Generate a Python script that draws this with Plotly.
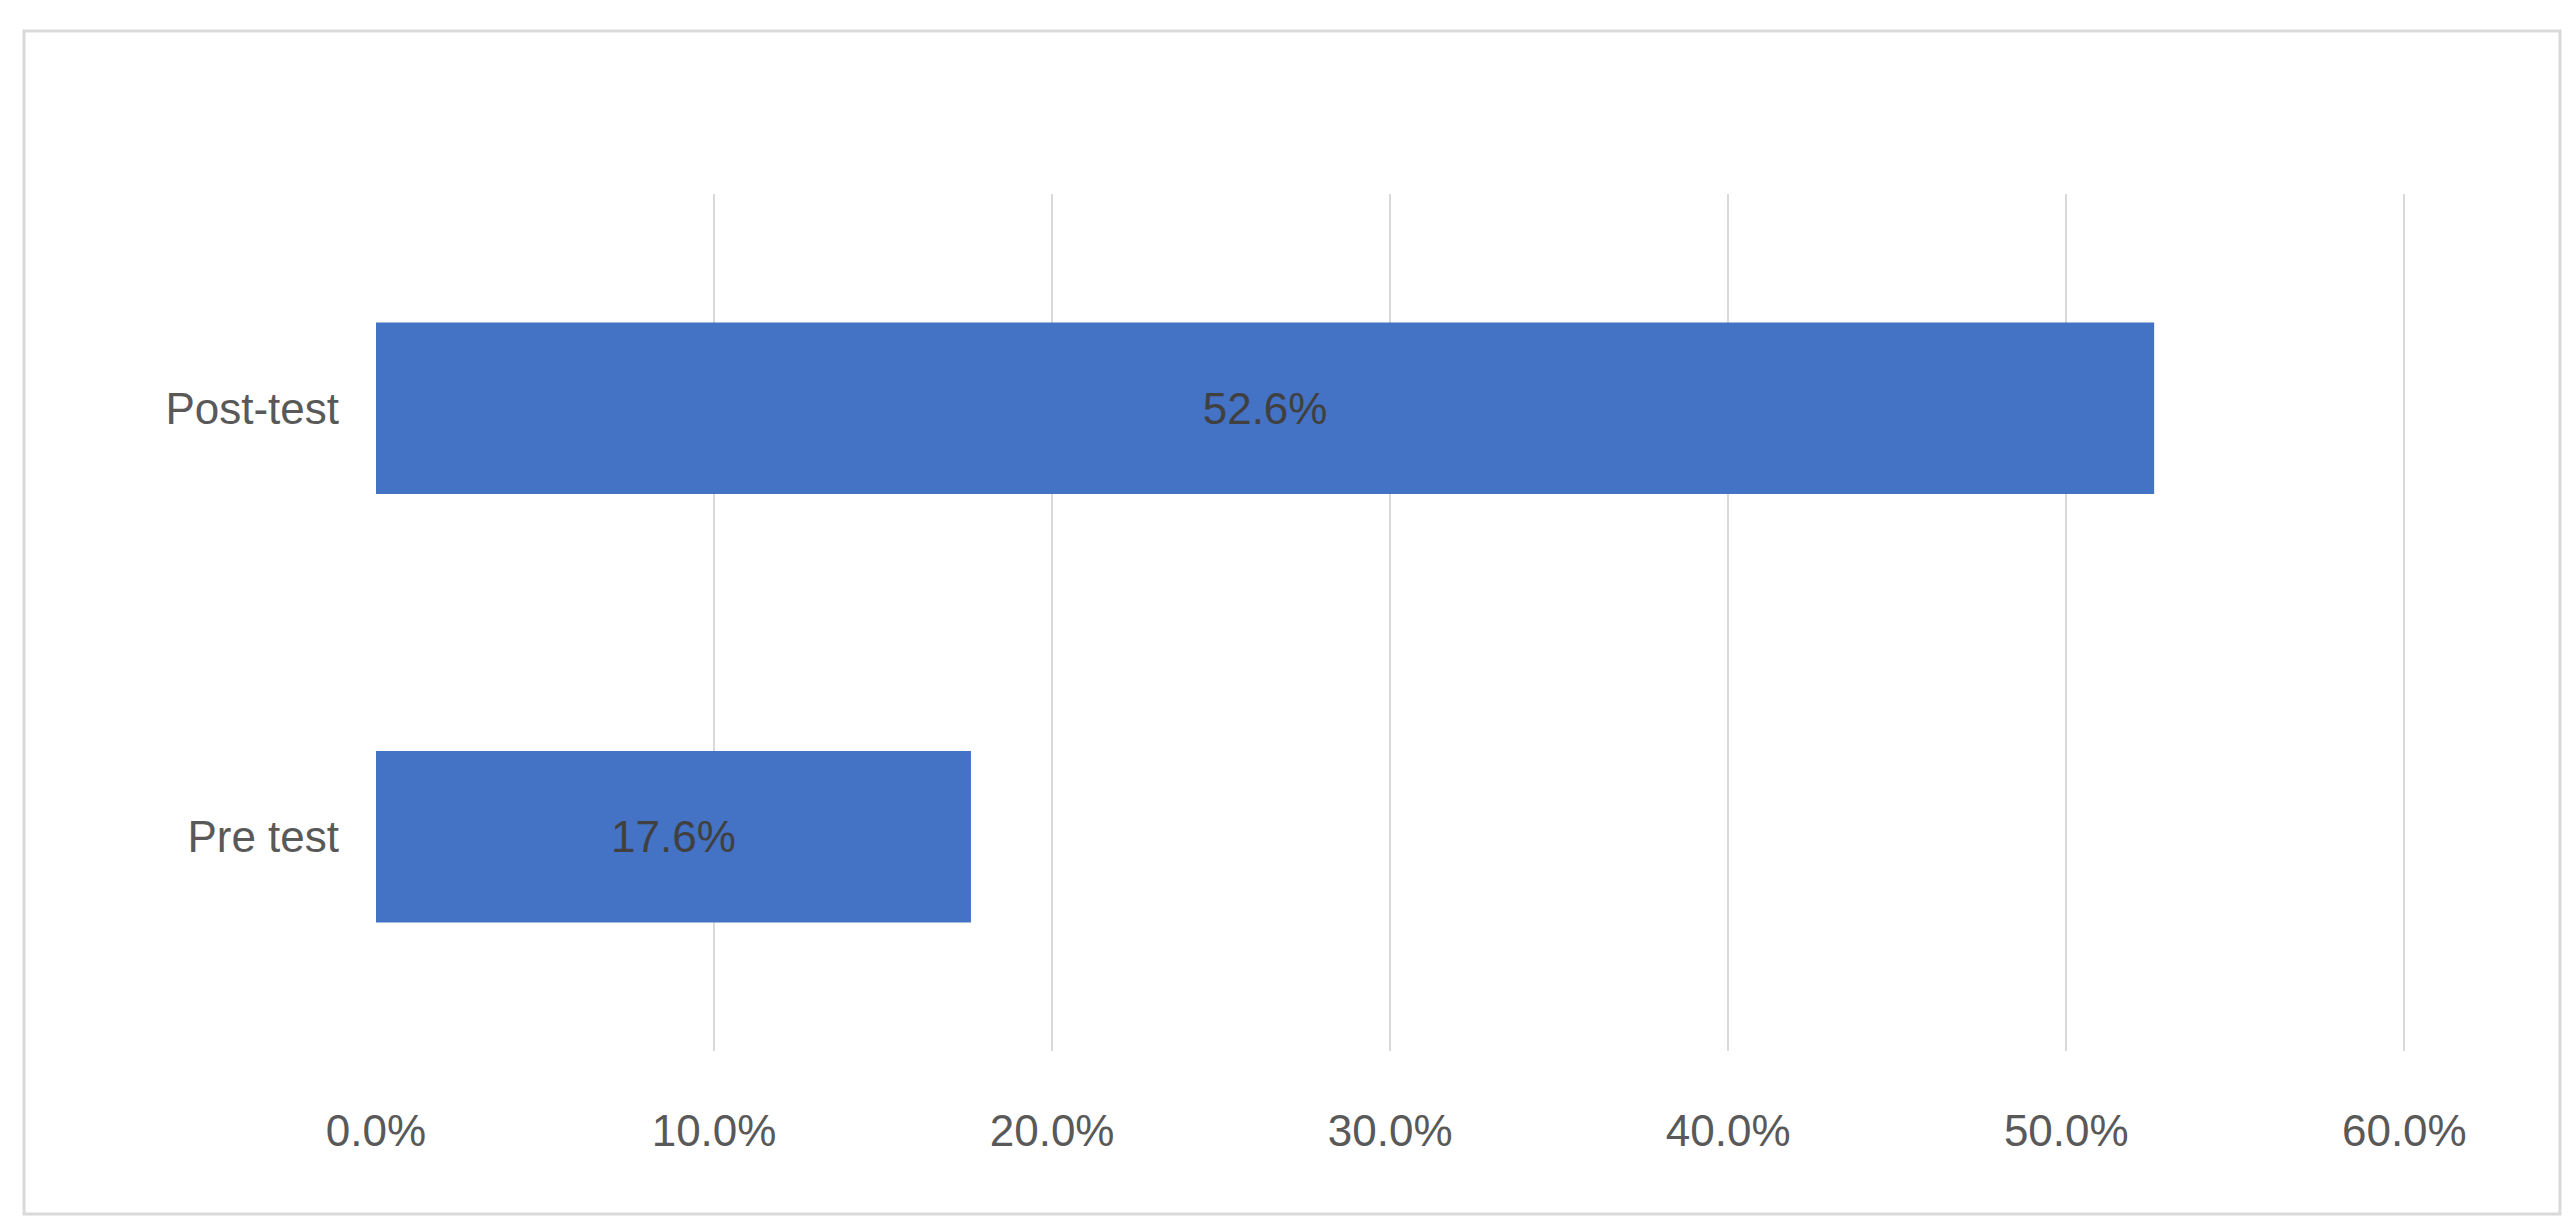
import plotly.graph_objects as go

categories = ['Pre test', 'Post-test']
values = [17.6, 52.6]
tick_vals = [0, 10, 20, 30, 40, 50, 60]
tick_text = ['0.0%', '10.0%', '20.0%', '30.0%', '40.0%', '50.0%', '60.0%']

W, H = 2574, 1223
ml, mr, mt, mb = 368, 176, 186, 180
pw, ph = W - ml - mr, H - mt - mb

fig = go.Figure(go.Bar(
    y=categories, x=values, orientation='h',
    marker=dict(color='#4472C4', line=dict(width=0)),
    text=[f'{v:.1f}%' for v in values], textposition='inside',
    insidetextanchor='middle',
    textfont=dict(size=44, color='#404040', family='Liberation Sans'),
))

fig.update_layout(
    width=W, height=H,
    margin=dict(l=ml, r=mr, t=mt, b=mb),
    paper_bgcolor='white', plot_bgcolor='white',
    bargap=0.6, showlegend=False,
    font=dict(family='Liberation Sans', size=44, color='#595959'),
    xaxis=dict(range=[0, 60.05], tickvals=tick_vals, ticktext=tick_text,
               showgrid=True, gridcolor='#d9d9d9', gridwidth=2,
               zeroline=False, showline=False, ticks='', ticklabelstandoff=50,
               fixedrange=True),
    yaxis=dict(showgrid=False, zeroline=False, showline=False, ticks='',
               ticklabelstandoff=36),
)

# outer chart border
fig.add_shape(type='rect', xref='paper', yref='paper',
              x0=(16 - ml) / pw, x1=(2552 - ml) / pw,
              y0=(H - mb - 1206) / ph, y1=(H - mb - 23) / ph,
              line=dict(color='#d9d9d9', width=3))

fig.write_html("out.html")
